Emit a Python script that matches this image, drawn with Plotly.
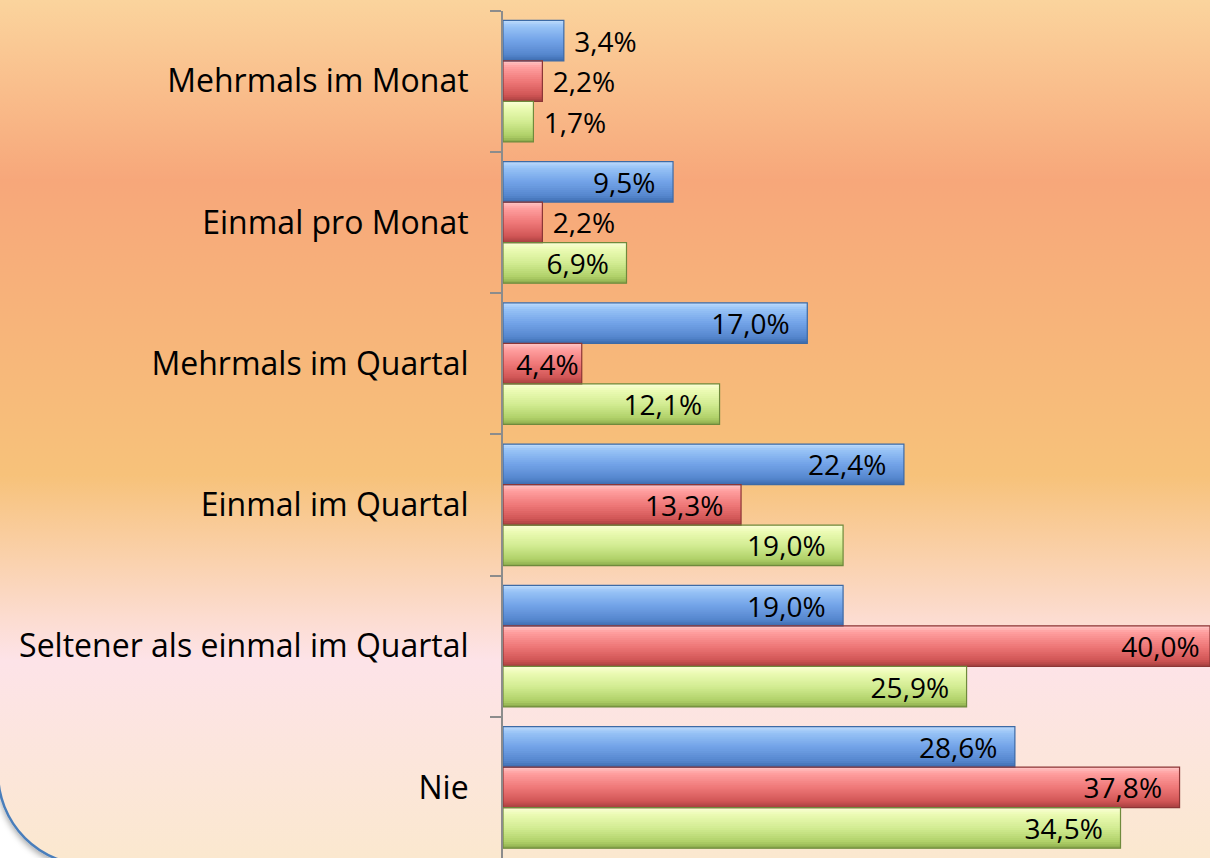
import base64
import plotly.graph_objects as go

# ---------------- data ----------------
categories = [
    "Mehrmals im Monat",
    "Einmal pro Monat",
    "Mehrmals im Quartal",
    "Einmal im Quartal",
    "Seltener als einmal im Quartal",
    "Nie",
]
series_names = ["Reihe 1", "Reihe 2", "Reihe 3"]
blue_values = [3.4, 9.5, 17.0, 22.4, 19.0, 28.6]
red_values = [2.2, 2.2, 4.4, 13.3, 40.0, 37.8]
green_values = [1.7, 6.9, 12.1, 19.0, 25.9, 34.5]
value_labels_blue = ["3,4%", "9,5%", "17,0%", "22,4%", "19,0%", "28,6%"]
value_labels_red = ["2,2%", "2,2%", "4,4%", "13,3%", "40,0%", "37,8%"]
value_labels_green = ["1,7%", "6,9%", "12,1%", "19,0%", "25,9%", "34,5%"]

# ---------------- style ----------------
W, H = 1210, 858
AXIS_X = 503
TOP_Y = 10.5
X_MAX = 39.5
FONT = "Open Sans"
NBSP = "\u00a0"

gradients = [
    [(0, "#c2ddfc"), (0.15, "#98c3f6"), (0.5, "#72a3e8"), (0.85, "#5586cd"), (1, "#3d6cae")],
    [(0, "#ffc6c6"), (0.15, "#ffa0a0"), (0.5, "#ef7878"), (0.85, "#d05555"), (1, "#a63f3f")],
    [(0, "#fbffd8"), (0.15, "#edfbb6"), (0.5, "#d2ec92"), (0.85, "#afd068"), (1, "#89a74a")],
]
outline_colors = ["#3d6aa5", "#8c3636", "#6f8a3c"]

bar_w = 0.287
offsets = [-1.5 * bar_w, -0.5 * bar_w, 0.5 * bar_w]
N_STRIPS = 20


def hex2rgb(h):
    h = h.lstrip("#")
    return [int(h[i:i + 2], 16) for i in (0, 2, 4)]


def grad_color(stops, t):
    for (p0, c0), (p1, c1) in zip(stops[:-1], stops[1:]):
        if p0 <= t <= p1:
            f = (t - p0) / (p1 - p0) if p1 > p0 else 0
            a, b = hex2rgb(c0), hex2rgb(c1)
            r = [round(a[i] + (b[i] - a[i]) * f) for i in range(3)]
            return "rgb(%d,%d,%d)" % tuple(r)
    return stops[-1][1]


all_values = [blue_values, red_values, green_values]
all_labels = [value_labels_blue, value_labels_red, value_labels_green]

fig = go.Figure()

# gradient strips (bevel look); each strip overlaps the next to hide seams
strip = bar_w / N_STRIPS
for s, vals in enumerate(all_values):
    for k in range(N_STRIPS):
        t = (k + 0.5) / N_STRIPS
        start = offsets[s] + k * strip
        width = min(strip * 2.0, offsets[s] + bar_w - start)
        fig.add_trace(go.Bar(
            y=categories, x=vals, orientation="h",
            offset=start, width=width,
            marker=dict(color=grad_color(gradients[s], t), line=dict(width=0)),
            hoverinfo="skip", showlegend=False,
        ))

# outline + labels (label bar clipped to the visible axis range)
for s, vals in enumerate(all_values):
    positions = []
    texts = []
    for v, lab in zip(vals, all_labels[s]):
        if v < 4:
            positions.append("outside")
            texts.append(NBSP + lab)
        elif v < 6:
            positions.append("inside")
            texts.append(lab)
        elif v > X_MAX:
            positions.append("inside")
            texts.append(lab + NBSP)
        else:
            positions.append("inside")
            texts.append(lab + NBSP * 2)
    shown = [min(v, X_MAX) for v in vals]
    fig.add_trace(go.Bar(
        y=categories, x=shown, orientation="h", name=series_names[s],
        offset=offsets[s], width=bar_w,
        marker=dict(color="rgba(0,0,0,0)", line=dict(color=outline_colors[s], width=1.2)),
        text=texts, textposition=positions,
        insidetextanchor="end", constraintext="none",
        textfont=dict(family=FONT, size=28, color="black"),
        showlegend=False,
    ))

# background (gradient panel with rounded corner)
svg = f"""<svg xmlns='http://www.w3.org/2000/svg' width='{W}' height='{H}' viewBox='0 0 {W} {H}'>
<defs>
<linearGradient id='bg' gradientUnits='userSpaceOnUse' x1='0' y1='0' x2='0' y2='{H}'>
<stop offset='0' stop-color='#fbd49d'/>
<stop offset='0.21' stop-color='#f7a77a'/>
<stop offset='0.555' stop-color='#f7c27a'/>
<stop offset='0.72' stop-color='#fcdcd0'/>
<stop offset='0.77' stop-color='#fde3e8'/>
<stop offset='1' stop-color='#fbe8cf'/>
</linearGradient>
<filter id='sh' x='-10%' y='-10%' width='120%' height='120%'>
<feDropShadow dx='0' dy='3' stdDeviation='3' flood-color='#000000' flood-opacity='0.35'/>
</filter>
</defs>
<rect width='{W}' height='{H}' fill='#ffffff'/>
<rect x='-2' y='-200' width='{W + 200}' height='1065' rx='92' ry='92' fill='url(#bg)' stroke='#4a7ebb' stroke-width='2.5' filter='url(#sh)'/>
</svg>"""
src = "data:image/svg+xml;base64," + base64.b64encode(svg.encode()).decode()

fig.update_layout(
    width=W, height=H,
    margin=dict(l=0, r=0, t=0, b=0, pad=0),
    barmode="overlay",
    showlegend=False,
    paper_bgcolor="white",
    plot_bgcolor="rgba(0,0,0,0)",
    images=[dict(source=src, xref="paper", yref="paper", x=0, y=1, sizex=1, sizey=1,
                 xanchor="left", yanchor="top", sizing="stretch", layer="below")],
    xaxis=dict(domain=[AXIS_X / W, 1], range=[0, X_MAX], visible=False, fixedrange=True),
    yaxis=dict(
        domain=[0, 1 - TOP_Y / H],
        type="category", categoryorder="array", categoryarray=categories,
        range=[len(categories) - 0.5, -0.5],
        tickson="boundaries", ticks="outside", ticklen=11, tickwidth=2, tickcolor="#8c8c8c",
        showline=True, linecolor="#8c8c8c", linewidth=2,
        showgrid=False, zeroline=False, automargin=False,
        tickfont=dict(family=FONT, size=32, color="black"),
        ticklabelstandoff=26,
        fixedrange=True,
    ),
)

fig.write_html(
    "out.html",
    config={"displayModeBar": False},
    post_script="document.body.style.margin='0px';document.body.style.overflow='hidden';",
)
